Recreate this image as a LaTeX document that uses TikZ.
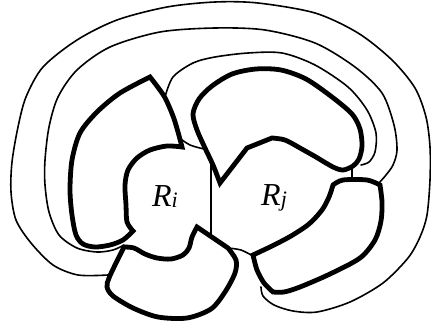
\documentclass[tikz,border=0pt]{standalone}
\usepackage{fontspec}
\setmainfont{Liberation Serif}
\begin{document}
\begin{tikzpicture}[x=1pt,y=-1pt,
  bold/.style={line width=4.8pt,line join=miter,miter limit=4},
  fine/.style={line width=1.6pt,line cap=round},
  lab/.style={font=\fontsize{32}{32}\selectfont\itshape,inner sep=0pt,anchor=base west}]
\useasboundingbox (0,0) rectangle (431,329);
% shape A (upper left)
\draw[bold] plot[smooth] coordinates {(150,77) (164,96) (173,116) (178,132) (182,147)}
  -- plot[smooth] coordinates {(182,147) (167,146) (150,150) (137,158) (128,170) (125,185) (126,205) (127,222) (133,231)}
  -- plot[smooth] coordinates {(133,231) (123,240) (110,245) (95,247) (83,244) (76,235) (72,215) (70,190) (72,160) (80,133) (97,112) (120,93) (150,77)} -- cycle;
% shape B (upper right)
\draw[bold] plot[smooth] coordinates {(220,183) (213,165) (205,148) (197,130) (193,114) (199,99) (212,86) (232,74) (256,69) (281,70) (306,79) (332,97) (352,114) (360,129) (362,146) (359,159) (353,166) (343,170) (333,167) (316,157)}
  -- plot[smooth] coordinates {(316,157) (300,148) (285,140) (272,138)}
  -- (247,148) -- cycle;
% shape C (bottom centre)
\draw[bold] plot[smooth] coordinates {(124,247) (134,248) (145,254) (157,258) (171,259) (183,255) (189,248) (192,237) (197,227)}
  -- (228,248)
  -- plot[smooth] coordinates {(228,248) (236,260) (235,273) (225,292) (211,309) (187,318) (158,317) (133,308) (113,296) (107,287) (109,278) (116,263) (124,247)} -- cycle;
% shape D (bottom right)
\draw[bold] plot[smooth] coordinates {(333,185) (343,180) (367,180) (380,185)}
  -- plot[smooth] coordinates {(380,185) (382,202) (381,221) (375,240) (360,258) (330,274) (300,287) (284,292) (273,292)}
  -- plot[smooth] coordinates {(273,292) (264,283) (257,270) (253,255)}
  -- plot[smooth] coordinates {(253,255) (272,246) (291,236) (309,224) (322,210) (329,197) (333,185)} -- cycle;
% outer thin curve
\draw[fine] plot[smooth] coordinates {(108,275) (78,275) (53,265) (31,243) (16,220) (11,192) (12,162) (18,127) (26,97) (43,67) (77,40) (117,20) (167,7) (215,2) (258,3) (315,13) (358,33) (392,60) (415,88) (426,117) (430,147) (430,180) (427,215) (420,237) (408,258) (383,283) (350,302) (317,312) (293,311) (274,305) (263,296) (261,287)};
% middle thin curve
\draw[fine] plot[smooth] coordinates {(124,245) (113,250) (97,252) (77,248) (59,235) (49,212) (45,185) (45,160) (49,127) (58,97) (77,70) (110,47) (160,32) (215,28) (265,30) (315,43) (355,67) (382,93) (394,125) (397,150) (393,165) (386,175) (379,183)};
% inner thin curve
\draw[fine] plot[smooth] coordinates {(165,97) (173,77) (193,63) (215,57) (248,53) (282,53) (315,65) (348,87) (367,110) (376,133) (375,152) (369,162) (361,165)};
% short thin links
\draw[fine] plot[smooth] coordinates {(178,137) (190,145) (204,149)};
\draw[fine] (211,161) -- (211,236);
\draw[fine] (352,168) -- (352,181);
\draw[fine] plot[smooth] coordinates {(228,248) (241,250) (253,256)};
% labels
\node[lab] (ri) at (152,206) {R\raisebox{-1pt}{\fontsize{22}{22}\selectfont i}};
\node[lab] (rj) at (261,205) {R\raisebox{-1pt}{\fontsize{22}{22}\selectfont j}};
\end{tikzpicture}
\end{document}
